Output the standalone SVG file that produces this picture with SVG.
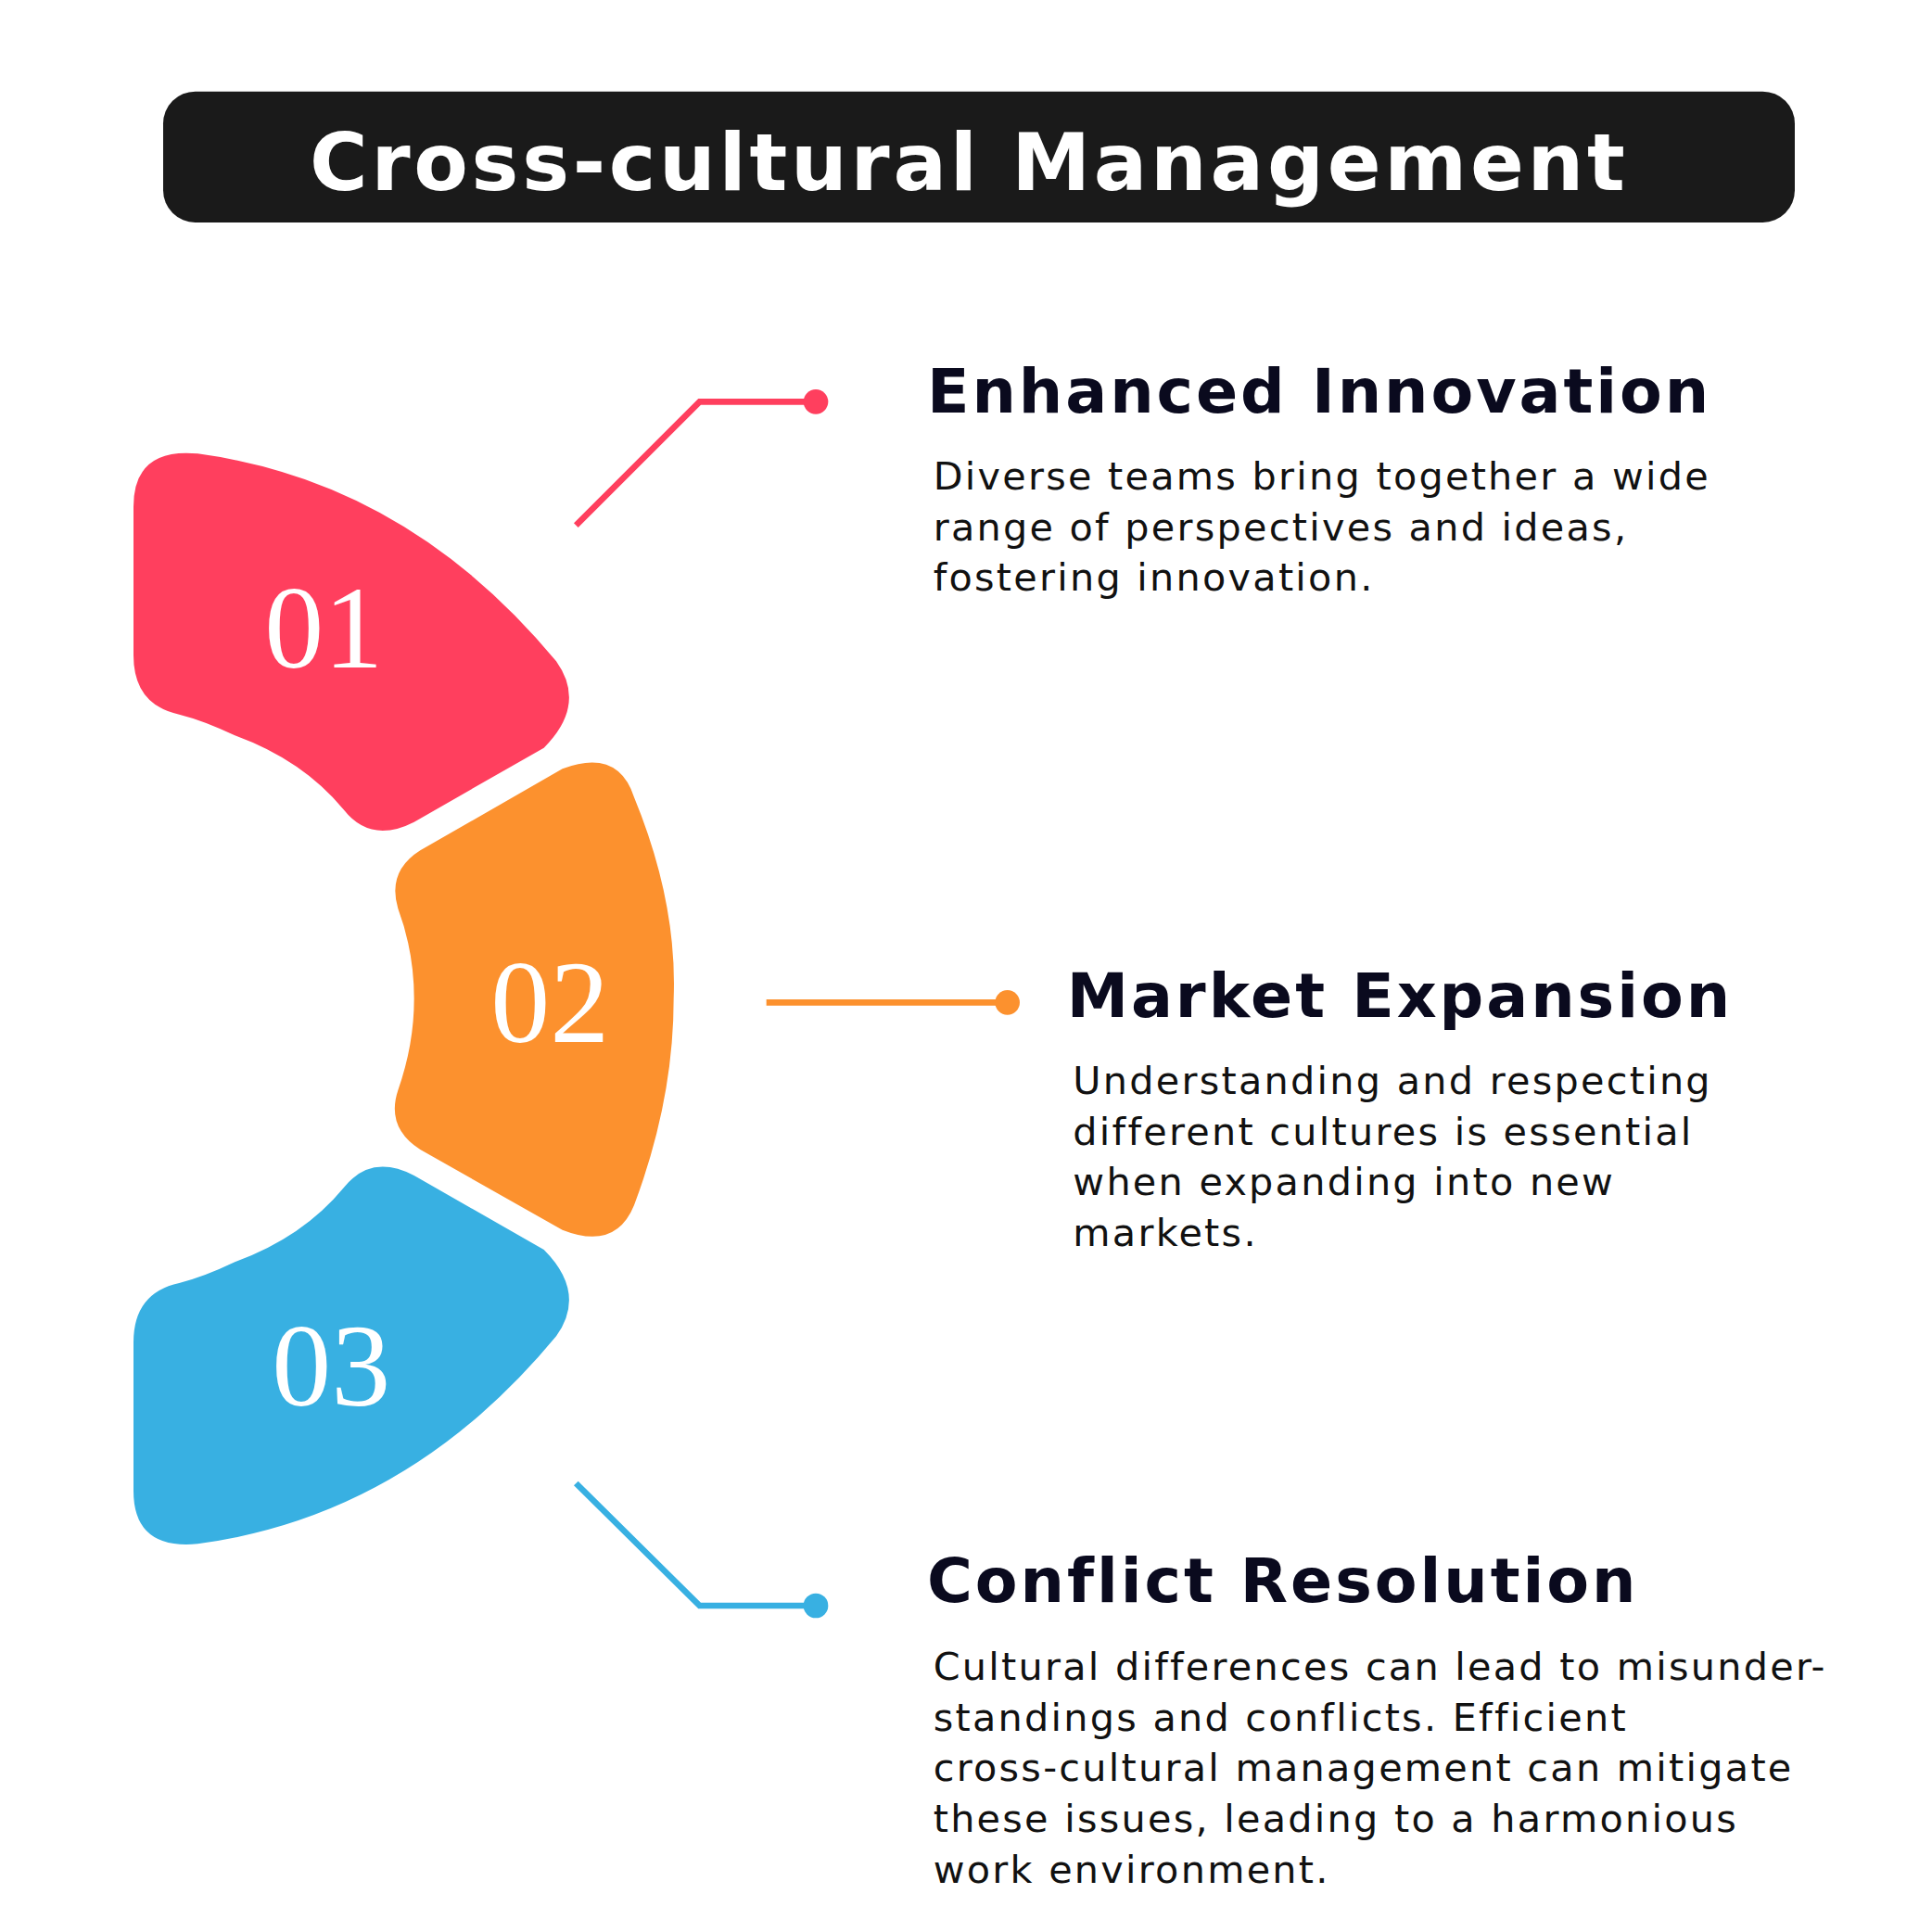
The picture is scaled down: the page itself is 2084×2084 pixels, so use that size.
<svg xmlns="http://www.w3.org/2000/svg" width="2084" height="2084" viewBox="0 0 2084 2084">
<style>
.h{font-family:"DejaVu Sans",sans-serif;font-weight:bold;font-size:50px;fill:#0a0a1e;letter-spacing:2.2px}
.b{font-family:"DejaVu Sans",sans-serif;font-size:31px;fill:#111;letter-spacing:1.7px}
.n{font-family:"Liberation Serif",serif;font-size:96px;fill:#fff;text-anchor:middle}
.c{fill:none;stroke-width:5}
</style>
<rect width="2084" height="2084" fill="#fff"/>
<g transform="scale(1.33333)">
<g id="title"><rect x="132" y="74" width="1320" height="106" rx="26" fill="#1a1a1a"/>
<text x="784" y="154" text-anchor="middle" font-family="DejaVu Sans,sans-serif" font-weight="bold" font-size="64" letter-spacing="2.8" fill="#fff">Cross-cultural Management</text></g>
<g id="seg1"><path d="M108 410 Q108 362 160 367 Q330 390 450 535 Q475 570 440 605 L335 665 Q300 683 278 655 Q245 615 190 595 Q165 583 145 578 Q108 570 108 530 Z" fill="#ff3f5e"/><text class="n" x="262" y="540">01</text></g>
<g id="seg2"><path d="M340 688 L455 622 Q500 605 513 645 Q548 730 545 808 Q545 890 513 975 Q498 1012 455 995 L340 930 Q312 912 322 882 Q335 845 335 808 Q335 770 322 735 Q313 705 340 688 Z" fill="#fc912e"/><text class="n" x="445" y="843">02</text></g>
<g id="seg3"><path d="M108 1206 Q108 1254 160 1249 Q330 1226 450 1081 Q475 1046 440 1011 L335 951 Q300 933 278 961 Q245 1001 190 1021 Q165 1033 145 1038 Q108 1046 108 1086 Z" fill="#38b0e2"/><text class="n" x="268" y="1137">03</text></g>
<g id="connectors">
<polyline class="c" stroke="#ff3f5e" points="466,425 566,325 660,325"/><circle cx="660" cy="325" r="10" fill="#ff3f5e"/>
<line class="c" stroke="#fc912e" x1="620" y1="811" x2="815" y2="811"/><circle cx="815" cy="811" r="10" fill="#fc912e"/>
<polyline class="c" stroke="#38b0e2" points="466,1200 566,1299 660,1299"/><circle cx="660" cy="1299" r="10" fill="#38b0e2"/>
</g>
<g id="t1"><text class="h" x="750" y="334">Enhanced Innovation</text>
<text class="b"><tspan x="755" y="396">Diverse teams bring together a wide</tspan><tspan x="755" y="437">range of perspectives and ideas,</tspan><tspan x="755" y="478">fostering innovation.</tspan></text></g>
<g id="t2"><text class="h" x="863" y="823">Market Expansion</text>
<text class="b"><tspan x="868" y="885">Understanding and respecting</tspan><tspan x="868" y="926">different cultures is essential</tspan><tspan x="868" y="967">when expanding into new</tspan><tspan x="868" y="1008">markets.</tspan></text></g>
<g id="t3"><text class="h" x="750" y="1296">Conflict Resolution</text>
<text class="b"><tspan x="755" y="1359">Cultural differences can lead to misunder-</tspan><tspan x="755" y="1400">standings and conflicts. Efficient</tspan><tspan x="755" y="1441">cross-cultural management can mitigate</tspan><tspan x="755" y="1482">these issues, leading to a harmonious</tspan><tspan x="755" y="1523">work environment.</tspan></text></g>
</g>
</svg>
